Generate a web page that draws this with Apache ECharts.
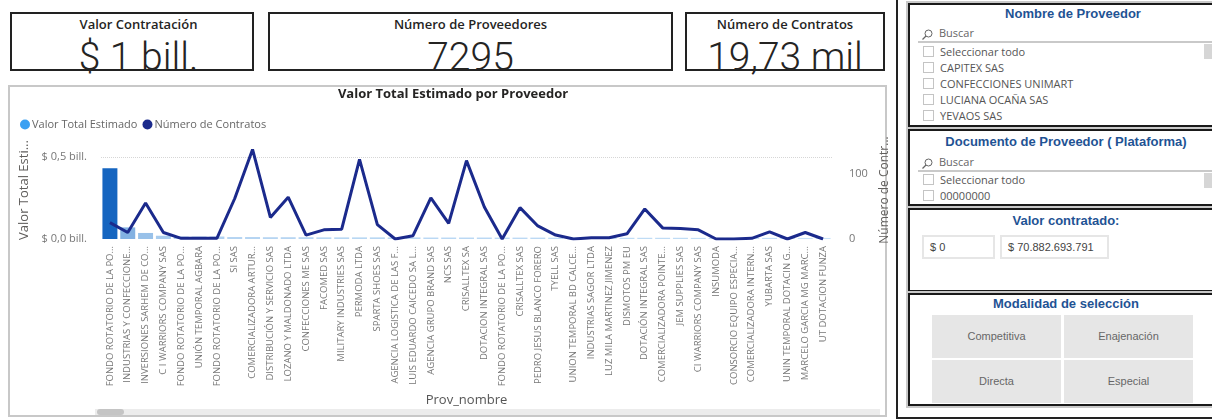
<!DOCTYPE html>
<html>
<head>
<meta charset="utf-8">
<script src="https://cdn.jsdelivr.net/npm/echarts@6/dist/echarts.min.js"></script>
<style>
body { margin: 0; width: 1212px; height: 419px; overflow: hidden; background: #fff; position: relative; font-family: 'Open Sans', sans-serif; }
.card { position: absolute; top: 12px; height: 59px; border: 2px solid #222; box-sizing: border-box; text-align: center; background: #fff; }
.card .t { font-weight: 600; font-size: 13px; line-height: 18px; color: #252423; margin-top: 1px; }
.card .v { font-family: Roboto, 'Open Sans', sans-serif; font-weight: 300; font-size: 39px; line-height: 40px; color: #252423; margin-top: 4px; }
.panel { position: absolute; left: 8px; top: 85px; width: 879px; height: 332px; border: 2px solid #c8c8c8; box-sizing: border-box; }
#chart { position: absolute; left: 10px; top: 87px; width: 883px; height: 328px; }
.track { position: absolute; left: 95px; top: 409px; width: 785px; height: 6px; background: #ececec; }
.thumb { position: absolute; left: 97px; top: 409px; width: 27px; height: 6px; background: #c4c4c4; border-radius: 3px; }
.frame { position: absolute; left: 896px; top: 0; width: 320px; height: 419px; border-left: 2px solid #222; border-bottom: 2px solid #222; box-sizing: border-box; background: #fff; }
.box { position: absolute; left: 908px; width: 316px; border: 2px solid #1a1a1a; box-sizing: border-box; background: #fff; box-shadow: 0 0 0 2px #c9c9c9; }
.box .h { font-family: 'Liberation Sans', Arial, sans-serif; font-weight: bold; font-size: 13px; color: #1f5394; text-align: center; position: absolute; left: 0; right: 0; }
.srch { position: absolute; left: 12px; font-size: 11px; color: #666; }
.srch svg { vertical-align: middle; margin-right: 6px; }
.div { position: absolute; left: 8px; right: 0; height: 2px; background: #c9c9c9; }
.item { position: absolute; left: 13px; font-size: 11px; line-height: 14px; color: #555; }
.item i { display: inline-block; width: 11px; height: 11px; border: 1px solid #c4c4c4; box-sizing: border-box; vertical-align: -1px; margin-right: 6px; }
.sb { position: absolute; left: 294px; width: 8px; background: #d6d6d6; }
.inp { position: absolute; top: 25px; height: 24px; border: 2px solid #e6e6e6; box-sizing: border-box; font-family: 'Liberation Sans', Arial, sans-serif; font-size: 11px; color: #444; line-height: 20px; padding-left: 6px; }
.btn { position: absolute; width: 129px; height: 43px; background: #e6e6e6; font-family: 'Liberation Sans', Arial, sans-serif; font-size: 11px; color: #666; text-align: center; line-height: 43px; }
</style>
</head>
<body>
<div class="card" style="left:10px;width:244px;padding-left:13px"><div class="t">Valor Contratación</div><div class="v">$ 1 bill.</div></div>
<div class="card" style="left:268px;width:405px"><div class="t">Número de Proveedores</div><div class="v">7295</div></div>
<div class="card" style="left:685px;width:200px"><div class="t">Número de Contratos</div><div class="v">19,73 mil</div></div>

<div class="panel"></div>
<div class="track"></div>
<div class="thumb"></div>
<div id="chart"></div>

<div class="frame"></div>

<div class="box" style="top:3px;height:124px">
  <div class="h" style="top:1px;padding-left:14px">Nombre de Proveedor</div>
  <div class="srch" style="top:20px"><svg width="11" height="11" viewBox="0 0 11 11"><circle cx="6.5" cy="4.5" r="3.5" fill="none" stroke="#666" stroke-width="1"/><line x1="4" y1="7" x2="0.5" y2="10.5" stroke="#666" stroke-width="1.2"/></svg>Buscar</div>
  <div class="div" style="top:36px"></div>
  <div class="sb" style="top:39px;height:15px"></div>
  <div class="item" style="top:40px"><i></i>Seleccionar todo</div>
  <div class="item" style="top:56px"><i></i>CAPITEX SAS</div>
  <div class="item" style="top:72px"><i></i>CONFECCIONES UNIMART</div>
  <div class="item" style="top:88px"><i></i>LUCIANA OCAÑA SAS</div>
  <div class="item" style="top:104px"><i></i>YEVAOS SAS</div>
</div>

<div class="box" style="top:129px;height:77px">
  <div class="h" style="top:3px">Documento de Proveedor ( Plataforma)</div>
  <div class="srch" style="top:23px"><svg width="11" height="11" viewBox="0 0 11 11"><circle cx="6.5" cy="4.5" r="3.5" fill="none" stroke="#666" stroke-width="1"/><line x1="4" y1="7" x2="0.5" y2="10.5" stroke="#666" stroke-width="1.2"/></svg>Buscar</div>
  <div class="div" style="top:39px"></div>
  <div class="sb" style="top:42px;height:15px"></div>
  <div class="item" style="top:42px"><i></i>Seleccionar todo</div>
  <div class="item" style="top:58px"><i></i>00000000</div>
</div>

<div class="box" style="top:208px;height:84px">
  <div class="h" style="top:3px">Valor contratado:</div>
  <div class="inp" style="left:12px;width:73px">$ 0</div>
  <div class="inp" style="left:90px;width:109px">$ 70.882.693.791</div>
</div>

<div class="box" style="top:293px;height:113px">
  <div class="h" style="top:1px">Modalidad de selección</div>
  <div class="btn" style="left:22px;top:20px">Competitiva</div>
  <div class="btn" style="left:154px;top:20px">Enajenación</div>
  <div class="btn" style="left:22px;top:65px">Directa</div>
  <div class="btn" style="left:154px;top:65px">Especial</div>
</div>

<script>
// proveedores (eje X)
const proveedores = [
  'FONDO ROTATORIO DE LA PO...', 'INDUSTRIAS Y CONFECCIONE...', 'INVERSIONES SARHEM DE CO...',
  'C I WARRIORS COMPANY SAS', 'FONDO ROTATORIO DE LA PO...', 'UNIÓN TEMPORAL AGBARA',
  'FONDO ROTATORIO DE LA PO...', 'SI SAS', 'COMERCIALIZADORA ARTUR...',
  'DISTRIBUCIÓN Y SERVICIO SAS', 'LOZANO Y MALDONADO LTDA', 'CONFECCIONES ME SAS',
  'FACOMED SAS', 'MILITARY INDUSTRIES SAS', 'PERMODA LTDA', 'SPARTA SHOES SAS',
  'AGENCIA LOGISTICA DE LAS F...', 'LUIS EDUARDO CAICEDO SA L...', 'AGENCIA GRUPO BRAND SAS',
  'NCS SAS', 'CRISALLTEX SA', 'DOTACION INTEGRAL SAS', 'FONDO ROTATORIO DE LA PO...',
  'CRISALLTEX SAS', 'PEDRO JESUS BLANCO FORERO', 'TYELL SAS', 'UNION TEMPORAL BD CALCE...',
  'INDUSTRIAS SAGOR LTDA', 'LUZ MILA MARTINEZ JIMENEZ', 'DISMOTOS PM EU',
  'DOTACIÓN INTEGRAL SAS', 'COMERCIALIZADORA POINTE...', 'JEM SUPPLIES SAS',
  'CI WARRIORS COMPANY SAS', 'INSUMODA', 'CONSORCIO EQUIPO ESPECIA...',
  'COMERCIALIZADORA INTERN...', 'YUBARTA SAS', 'UNIN TEMPORAL DOTACIN G...',
  'MARCELO GARCIA MG MARC...', 'UT DOTACION FUNZA'
]

// Valor Total Estimado (pesos)
const valorEstimado = [
  4.33e11, 7.1e10, 3.7e10, 2.0e10, 1.5e10, 1.5e10, 1.5e10, 1.2e10, 1.2e10, 1.1e10,
  1.1e10, 1.1e10, 1.0e10, 1.0e10, 1.0e10, 1.0e10, 9.5e9, 9.5e9, 9e9, 9e9,
  9e9, 9e9, 8.5e9, 8.5e9, 8.5e9, 8e9, 8e9, 8e9, 8e9, 7.5e9,
  7.5e9, 7.5e9, 7.5e9, 7e9, 7e9, 7e9, 7e9, 7e9, 6.5e9, 6.5e9, 6.5e9
]

// Número de Contratos
const numeroContratos = [
  25, 10, 55, 10, 1, 1, 1, 62, 137, 33, 64,
  6, 14, 15, 122, 22, 0, 5, 63, 24, 120, 49, 0, 48,
  20, 6, 0, 2, 2, 8, 46, 17, 16, 14, 0, 0, 1, 11, 0, 10, 0
]

// etiquetas de los ejes
const ticksValor = { 0: '$ 0,0 bill.', 500000000000: '$ 0,5 bill.' }
const ticksContratos = { 0: '0', 100: '100' }

const chart = echarts.init(document.getElementById('chart'))

const vMin = Math.min(...valorEstimado)
const vMax = Math.max(...valorEstimado)

// escala de color por valor (claro -> azul)
const barColor = (p) => {
  const t = Math.sqrt((p.value - vMin) / (vMax - vMin))
  const a = [200, 226, 248]
  const b = [21, 101, 192]
  const c = a.map((x, i) => Math.round(x + (b[i] - x) * t))
  return `rgb(${c[0]},${c[1]},${c[2]})`
}

const option = {
  animation: false,
  textStyle: { fontFamily: 'Open Sans' },
  title: {
    text: 'Valor Total Estimado por Proveedor',
    left: 438,
    top: 0,
    padding: [1, 5],
    textAlign: 'center',
    textStyle: { fontSize: 13, fontWeight: 'bold', color: '#252423', fontFamily: 'Open Sans' }
  },
  legend: {
    left: 5,
    top: 27,
    icon: 'circle',
    itemWidth: 10,
    itemHeight: 10,
    itemGap: 5,
    textStyle: { fontSize: 11, color: '#666', padding: [0, 0, 0, -3] },
    data: [
      { name: 'Valor Total Estimado', itemStyle: { color: '#3aa0f2' } },
      { name: 'Número de Contratos', itemStyle: { color: '#1b2a8c' } }
    ]
  },
  grid: { left: 91, right: 61, top: 54, bottom: 176, containLabel: false, outerBoundsMode: 'none' },
  xAxis: {
    type: 'category',
    data: proveedores,
    name: 'Prov_nombre',
    nameLocation: 'middle',
    nameGap: 155,
    nameMoveOverlap: false,
    nameTextStyle: { fontSize: 13, color: '#555' },
    axisLine: { show: false },
    axisTick: { show: false },
    axisLabel: { rotate: 90, interval: 0, fontSize: 9.5, color: '#777', margin: 7 }
  },
  yAxis: [
    {
      type: 'value',
      min: 0,
      max: 6e11,
      interval: 5e11,
      name: 'Valor Total Esti...',
      nameLocation: 'middle',
      nameGap: 70,
      nameTextStyle: { fontSize: 13, color: '#605e5c' },
      axisLabel: { fontSize: 11, color: '#777', margin: 14, formatter: (v) => ticksValor[v] || '' },
      splitLine: { showMinLine: false, showMaxLine: false, lineStyle: { color: '#d6d6d6', type: 'dotted' } }
    },
    {
      type: 'value',
      min: 0,
      max: 150,
      interval: 100,
      name: 'Número de Contr...',
      nameLocation: 'middle',
      nameGap: 38,
      nameTextStyle: { fontSize: 12, color: '#605e5c' },
      axisLabel: { fontSize: 11, color: '#777', margin: 17, formatter: (v) => ticksContratos[v] || '' },
      splitLine: { show: false }
    }
  ],
  series: [
    {
      name: 'Valor Total Estimado',
      type: 'bar',
      yAxisIndex: 0,
      data: valorEstimado,
      barCategoryGap: '16%',
      itemStyle: { color: barColor }
    },
    {
      name: 'Número de Contratos',
      type: 'line',
      yAxisIndex: 1,
      data: numeroContratos,
      showSymbol: false,
      lineStyle: { width: 3, color: '#1b2a8c' },
      itemStyle: { color: '#1b2a8c' }
    }
  ]
}

chart.setOption(option)
</script>
</body>
</html>
